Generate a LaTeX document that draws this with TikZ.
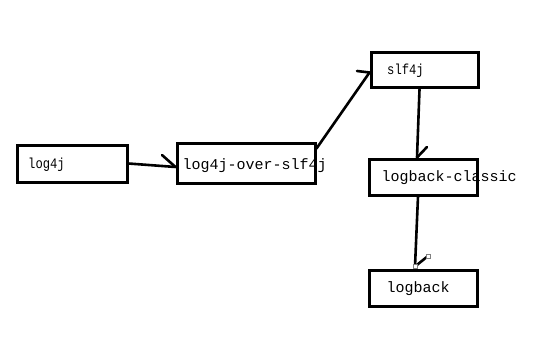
\documentclass[tikz,border=0pt]{standalone}
\usepackage{fontspec}
\setmonofont{Liberation Mono}
\newfontfamily\narrowmono[FakeStretch=0.84]{Liberation Mono}
\usetikzlibrary{calc}
\tikzset{
  box/.style={draw, line width=3pt, rectangle, inner sep=0pt},
  lbl/.style={anchor=west, inner sep=0pt, font=\ttfamily\fontsize{15}{15}\selectfont},
  lblsmall/.style={anchor=west, inner sep=0pt, font=\narrowmono\fontsize{14.5}{14.5}\selectfont},
  conn/.style={line width=2.6pt, line cap=round},
  handle/.style={draw=gray, fill=white, line width=0.8pt, minimum size=4pt, inner sep=0pt, rectangle}
}
\begin{document}
\begin{tikzpicture}[x=1pt,y=-1pt]
\useasboundingbox (0,0) rectangle (543,350);
% boxes
\node[box, minimum width=110pt, minimum height=37pt] (b1) at (72,163.5) {};
\node[box, minimum width=138pt, minimum height=40pt] (b2) at (246,163) {};
\node[box, minimum width=107pt, minimum height=35pt] (b3) at (424.5,70.5) {};
\node[box, minimum width=108pt, minimum height=36pt] (b4) at (423,177) {};
\node[box, minimum width=108pt, minimum height=36pt] (b5) at (423,288) {};
% labels
\node[lblsmall] (t1) at (28,165) {log4j};
\node[lbl] (t2) at (182.5,166) {log4j-over-slf4j};
\node[lblsmall] (t3) at (387,71) {slf4j};
\node[lbl] (t4) at (381.5,178) {logback-classic};
\node[lbl] (t5) at (386.5,288.5) {logback};
% barb start points
\coordinate (h1) at (162,155);
\coordinate (h2) at (357,71);
\coordinate (h3) at (427,147);
\coordinate (h4) at (428,256);
% connectors
\draw[conn] (b1.east) -- ($(b2.west)+(0,4)$) coordinate (e1);
\draw[conn] (h1) -- (e1);
\draw[conn] ($(b2.north east)+(0,7)$) -- ($(b3.west)+(0,2)$) coordinate (e2);
\draw[conn] (h2) -- (e2);
\draw[conn] ($(b3.south)+(-5,0)$) -- ($(b4.north)+(-6,0)$) coordinate (e3);
\draw[conn] (h3) -- (e3);
\draw[conn] ($(b4.south)+(-5,0)$) -- ($(b5.north)+(-8,-2)$) coordinate (e4);
\draw[conn] (h4) -- (e4);
\node[handle] (s1) at (e4) {};
\node[handle] (s2) at (h4) {};
\end{tikzpicture}
\end{document}
